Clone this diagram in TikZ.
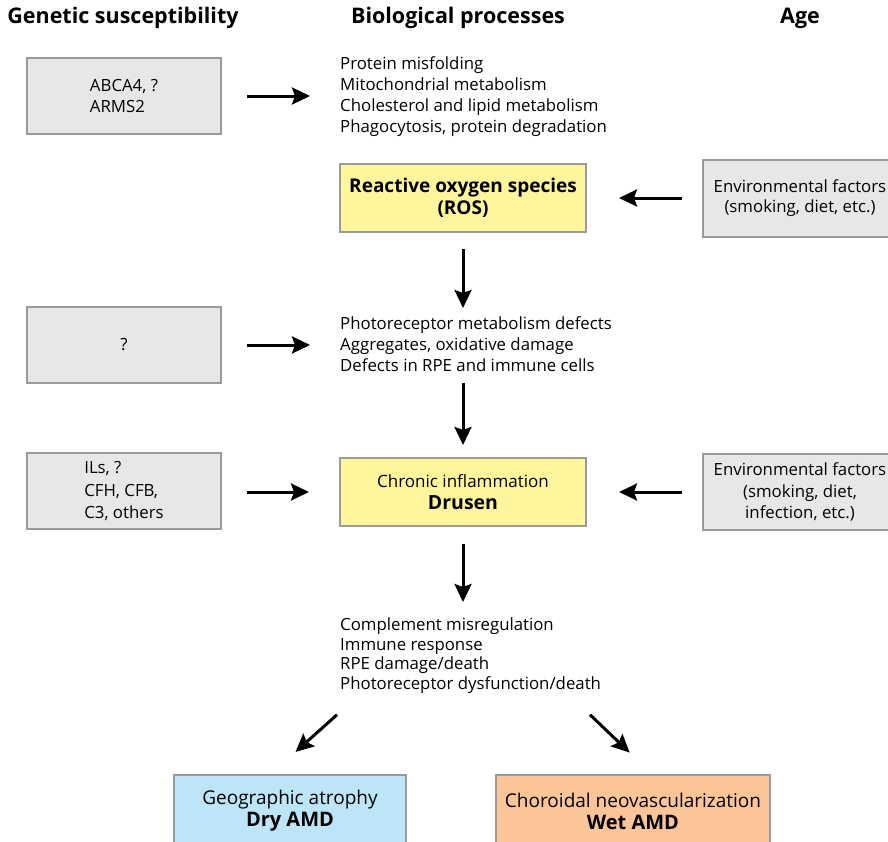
\documentclass[tikz,border=0pt]{standalone}
\usepackage{fontspec}
\setmainfont{Open Sans}
\usetikzlibrary{arrows.meta}

\definecolor{boxgray}{HTML}{E6E7E8}
\definecolor{linegray}{HTML}{9A9A9A}
\definecolor{keyyellow}{HTML}{FFF59D}
\definecolor{dryblue}{HTML}{BDE5F8}
\definecolor{wetorange}{HTML}{FBC598}

\begin{document}
\begin{tikzpicture}[
    x=1pt,
    y=-1pt,
    font=\fontsize{16.8}{21}\selectfont,
    head/.style={font=\fontsize{21.5}{24}\selectfont\bfseries},
    genbox/.style={draw=linegray, line width=2pt, fill=boxgray, minimum width=194pt, minimum height=76pt, align=left},
    keybox/.style={draw=linegray, line width=2pt, fill=keyyellow, minimum width=246pt, minimum height=68pt, align=center},
    outbox/.style={draw=linegray, line width=2pt, minimum height=72pt, align=center, font=\fontsize{19}{22}\selectfont},
    proc/.style={anchor=north west, align=left, inner sep=0pt},
    arr/.style={-{Stealth[length=18pt,width=17pt,inset=3pt]}, line width=3pt}
  ]
  \useasboundingbox (0,0) rectangle (888,841);

  % column heads
  \node[head] (genhead) at (123,18) {Genetic susceptibility};
  \node[head] (biohead) at (458,18) {Biological processes};
  \node[head] (agehead) at (800,18) {Age};

  % first row
  \node[genbox] (gen1) at (124,96) {ABCA4, ?\\ARMS2};
  \node[proc] (bio1) at (340,56) {Protein misfolding\\Mitochondrial metabolism\\Cholesterol and lipid metabolism\\Phagocytosis, protein degradation};

  \node[keybox, font=\fontsize{19}{22}\selectfont\bfseries] (ros) at (463,198) {Reactive oxygen species\\(ROS)};
  \node[genbox, align=center, minimum height=77pt, font=\fontsize{16.8}{20}\selectfont] (env1) at (800,198) {Environmental factors\\(smoking, diet, etc.)};

  % second row
  \node[genbox] (gen2) at (124,345) {?};
  \node[proc] (bio2) at (340,316) {Photoreceptor metabolism defects\\Aggregates, oxidative damage\\Defects in RPE and immune cells};

  % third row
  \node[genbox, font=\fontsize{16.8}{22.5}\selectfont] (gen3) at (124,491) {ILs, ?\\CFH, CFB,\\C3, others};
  \node[keybox, font=\fontsize{17}{22}\selectfont] (drusen) at (463,492) {Chronic inflammation\\{\fontsize{19.5}{22}\selectfont\bfseries Drusen}};
  \node[genbox, align=center, font=\fontsize{16.8}{21.5}\selectfont] (env2) at (800,492) {Environmental factors\\(smoking, diet,\\infection, etc.)};

  \node[proc, font=\fontsize{16.8}{19.5}\selectfont] (bio3) at (340,618) {Complement misregulation\\Immune response\\RPE damage/death\\Photoreceptor dysfunction/death};

  % outcomes
  \node[outbox, fill=dryblue, minimum width=232pt] (dry) at (290,811) {Geographic atrophy\\{\fontsize{20}{22}\selectfont\bfseries Dry AMD}};
  \node[outbox, fill=wetorange, minimum width=274pt] (wet) at (633,811) {Choroidal neovascularization\\{\fontsize{20}{22}\selectfont\bfseries Wet AMD}};

  % arrows
  \draw[arr, shorten <=25pt, shorten >=30pt] (gen1) -- (gen1 -| bio1.west);
  \draw[arr, shorten <=25pt, shorten >=30pt] (gen2) -- (gen2 -| bio2.west);
  \draw[arr, shorten <=25pt, shorten >=30pt] (gen3.east |- drusen) -- (drusen);
  \draw[arr, shorten <=20pt, shorten >=32pt] (env1) -- (ros);
  \draw[arr, shorten <=20pt, shorten >=32pt] (env2) -- (drusen);

  \draw[arr, shorten <=16pt, shorten >=8pt] (ros) -- (ros |- bio2.north);
  \draw[arr, shorten <=12pt, shorten >=12pt] (drusen |- bio2.south) -- (drusen);
  \draw[arr, shorten <=17pt, shorten >=16pt] (drusen) -- (drusen |- bio3.north);

  \draw[arr, shorten >=33pt] ([xshift=-3pt,yshift=-21pt]bio3.south west) -- ([xshift=-19pt]dry.north);
  \draw[arr, shorten >=31pt] ([xshift=250pt,yshift=-21pt]bio3.south west) -- ([xshift=19pt]wet.north);
\end{tikzpicture}
\end{document}
